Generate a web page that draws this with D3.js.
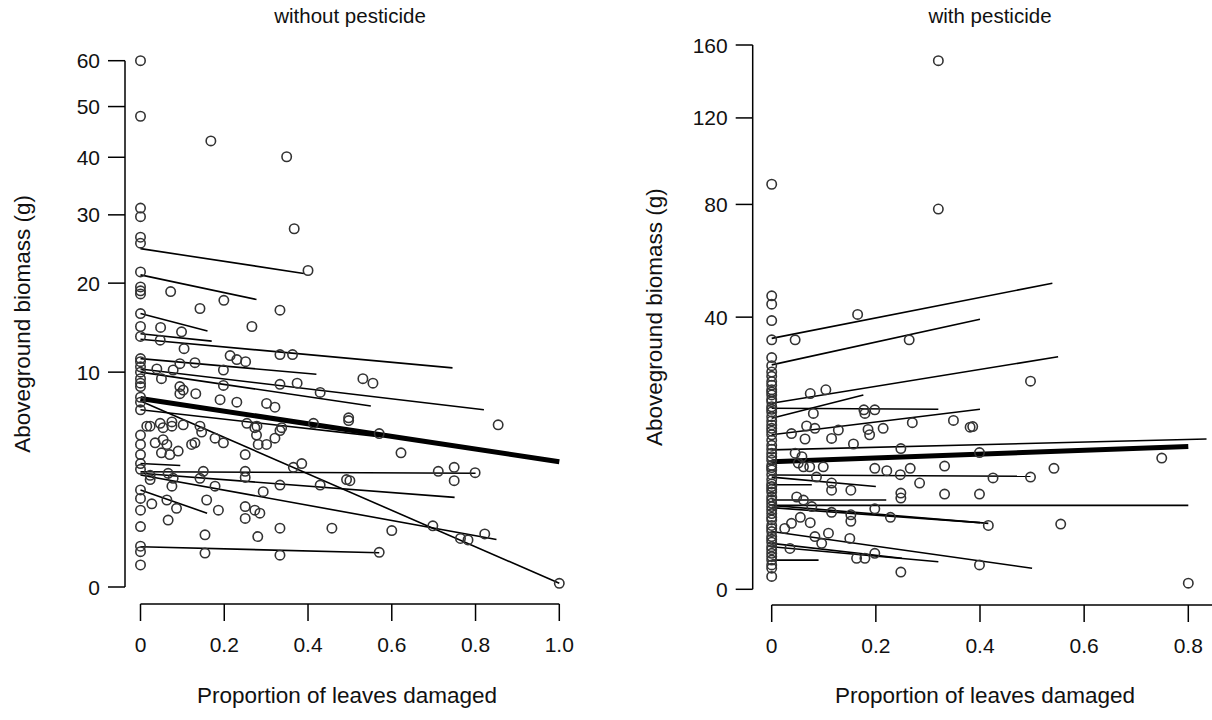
<!DOCTYPE html>
<html><head><meta charset="utf-8">
<script src="https://cdn.jsdelivr.net/npm/d3@7"></script>
<style>
body{margin:0;background:#fff}
text{font-family:"Liberation Sans",Arial,sans-serif;fill:#111}
</style>
</head><body>
<svg id="c" width="1212" height="720"></svg>
<script>
// ---------- DATA ----------
const panelTitles = ["without pesticide", "with pesticide"];
const xTitle = "Proportion of leaves damaged";
const yTitle = "Aboveground biomass (g)";
const xTicksLeft = [0, 0.2, 0.4, 0.6, 0.8, 1.0];
const xTickLabelsLeft = ["0", "0.2", "0.4", "0.6", "0.8", "1.0"];
const yTicksLeft = [0, 10, 20, 30, 40, 50, 60];
const xTicksRight = [0, 0.2, 0.4, 0.6, 0.8];
const xTickLabelsRight = ["0", "0.2", "0.4", "0.6", "0.8"];
const yTicksRight = [0, 40, 80, 120, 160];

// [proportion damaged, biomass]
const leftPoints = [
[0,60],[0,48],[0.168,43.1],[0.349,40.1],[0,31.1],[0,29.7],[0.367,27.8],[0,26.5],[0,25.6],[0.40,21.7],[0,21.5],
[0,19.5],[0,19.0],[0,18.6],[0.072,18.9],[0.199,17.8],[0.142,16.8],[0.333,16.6],[0.266,14.7],[0,16.2],[0,14.7],
[0.048,14.6],[0.098,14.1],[0.047,13.2],[0,13.6],[0.104,12.3],[0.214,11.6],[0.23,11.2],[0.251,11.0],[0.333,11.7],
[0.363,11.7],[0,11.3],[0,11.0],[0,10.5],[0,10.0],[0,9.4],[0,9.0],[0,8.7],[0,7.8],[0,7.4],[0,6.8],[0.039,10.3],
[0.05,9.4],[0.078,10.2],[0.094,10.8],[0.13,10.9],[0.094,8.7],[0.094,8.1],[0.132,8.1],[0.102,8.4],[0.198,10.2],
[0.198,8.8],[0.19,7.6],[0.23,7.4],[0.301,7.3],[0.321,7.0],[0.333,8.9],[0.374,9.0],[0.429,8.2],[0.023,5.6],
[0.047,5.8],[0.075,5.9],[0.102,5.7],[0.254,5.8],[0.278,5.6],[0.337,5.5],[0.413,5.8],[0.497,6.2],[0.531,9.4],
[0.555,9.0],[0.015,5.6],[0,5.0],[0.054,5.5],[0.075,5.6],[0,4.4],[0.035,4.5],[0.054,4.7],[0.063,4.4],[0.09,4.0],
[0.05,3.9],[0.07,3.8],[0,3.8],[0.122,4.4],[0.13,4.5],[0.142,5.6],[0.146,5.2],[0.178,4.8],[0.198,4.5],[0.25,3.8],
[0.273,5.5],[0.277,5.0],[0.281,4.4],[0.301,4.4],[0.321,4.8],[0.333,5.3],[0,3.3],[0,3.0],[0.023,2.7],[0.023,2.5],
[0.066,2.8],[0.078,2.56],[0.075,2.2],[0,2.04],[0,1.7],[0.027,1.5],[0.063,1.64],[0.086,1.34],[0,1.28],[0.066,0.97],
[0,0.79],[0,0.36],[0,0.27],[0,0.105],[0.15,2.9],[0.142,2.56],[0.178,2.2],[0.158,1.64],[0.186,1.28],[0.154,0.59],
[0.154,0.25],[0.25,2.9],[0.25,2.6],[0.293,1.97],[0.333,2.25],[0.25,1.4],[0.273,1.28],[0.285,1.18],[0.25,1.02],
[0.28,0.55],[0.333,0.75],[0.333,0.22],[0.365,3.1],[0.385,3.3],[0.429,2.25],[0.457,0.75],[0.492,2.5],
[0.497,6.0],[0.854,5.7],[0.57,5.1],[0.622,3.9],[0.711,2.9],[0.749,3.1],[0.749,2.45],[0.799,2.83],[0.5,2.45],
[0.6,0.69],[0.698,0.81],[0.764,0.51],[0.782,0.48],[0.822,0.61],[0.57,0.26],[1.0,0.003]
];
// individual fitted lines: [x0, y0, x1, y1]
const leftLines = [
[0,24.8,0.39,21.3],[0,21.1,0.277,17.9],[0,16.2,0.16,14.2],[0,13.9,0.17,13.1],[0,13.3,0.745,10.4],
[0,11.3,0.42,9.8],[0,10.3,0.82,6.8],[0,10.0,0.55,7.1],[0,7.5,1.0,0.003],[0,6.8,0.57,4.9],
[0,2.88,0.8,2.80],[0,3.3,0.095,3.2],[0,2.8,0.75,1.74],[0,2.72,0.85,0.49],[0,2.04,0.159,1.18],[0,0.35,0.57,0.255]
];
const leftFit = [0, 7.7, 1.0, 3.4];

const rightPoints = [
[0,88.6],[0,46.5],[0,43.9],[0,39.0],[0,33.6],[0,29.0],[0,27.0],[0,25.5],[0,24.5],[0,23.3],[0,22.5],[0,21.5],
[0,21.0],[0,20.4],[0,19.5],[0,19.0],[0,18.0],[0,17.5],[0,17.0],[0,16.1],[0,15.3],[0,14.6],[0,14.0],[0,13.5],
[0,12.9],[0,12.0],[0,11.2],[0,10.6],[0,10.0],[0,9.5],[0,9.0],[0,8.3],[0,8.0],[0,7.7],[0,7.1],[0,6.5],[0,6.0],
[0,5.7],[0,5.4],[0,5.1],[0,4.6],[0,4.3],[0,4.0],[0,3.7],[0,3.4],[0,3.1],[0,2.8],[0,2.6],[0,2.2],[0,2.0],
[0,1.8],[0,1.5],[0,1.35],[0,1.2],[0,0.98],[0,0.85],[0,0.70],[0,0.58],[0,0.46],[0,0.32],[0,0.24],[0,0.09],
[0.32,150.9],[0.32,78.1],[0.165,40.8],[0.045,33.6],[0.264,33.6],[0.074,20.7],[0.104,21.5],[0.177,17.4],
[0.198,17.4],[0.179,16.7],[0.08,16.7],[0.038,13.1],[0.067,14.4],[0.083,14.0],[0.064,12.2],[0.115,12.3],
[0.128,13.7],[0.157,11.4],[0.185,13.8],[0.188,12.9],[0.214,14.0],[0.27,15.0],[0.349,15.4],[0.381,14.2],
[0.248,10.7],[0.045,10.0],[0.058,9.5],[0.051,8.6],[0.061,8.1],[0.073,8.1],[0.086,6.8],[0.099,8.1],[0.198,7.9],
[0.221,7.6],[0.247,7.1],[0.266,7.9],[0.284,6.1],[0.332,8.2],[0.115,6.1],[0.115,5.3],[0.152,5.3],[0.248,5.0],
[0.248,4.5],[0.332,4.9],[0.048,4.6],[0.061,4.3],[0.077,3.7],[0.115,3.2],[0.152,3.0],[0.152,2.5],[0.198,3.5],
[0.228,2.8],[0.074,2.4],[0.055,2.8],[0.038,2.35],[0.025,2.0],[0.109,1.7],[0.083,1.5],[0.096,1.14],[0.15,1.4],
[0.035,0.9],[0.163,0.52],[0.179,0.52],[0.198,0.70],[0.248,0.16],[0.497,23.4],[0.386,14.3],[0.399,10.1],
[0.749,9.3],[0.542,7.9],[0.497,6.8],[0.425,6.7],[0.399,4.9],[0.416,2.2],[0.555,2.3],[0.399,0.32],[0.80,0.02]
];
const rightLines = [
[0,34.0,0.539,50.6],[0,27.2,0.4,39.4],[0,18.7,0.55,29.2],[0,15.8,0.176,20.4],[0,17.7,0.32,17.5],
[0,12.9,0.4,17.5],[0,10.5,0.835,12.2],[0,7.05,0.497,6.9],[0,6.8,0.2,5.7],[0,5.9,0.077,5.9],
[0,4.3,0.22,4.3],[0,3.8,0.8,3.8],[0,3.8,0.416,2.35],[0,3.6,0.40,2.4],[0,1.8,0.5,0.24],
[0,1.14,0.25,0.52],[0,0.98,0.32,0.41],[0,0.46,0.09,0.46]
];
const rightFit = [0, 8.8, 0.80, 11.0];

// ---------- DRAW ----------
const svg = d3.select("#c");
const TICK_FS = 21, TITLE_FS = 22.5;

function panel(cfg) {
  const g = svg.append("g");
  const x = d3.scaleLinear().domain(cfg.xDomain).range(cfg.xRange);
  const y = d3.scaleSqrt().domain(cfg.yDomain).range(cfg.yRange);
  const clip = "clip" + cfg.id;
  svg.append("clipPath").attr("id", clip).append("rect")
    .attr("x", cfg.xRange[0] - 20).attr("y", 30).attr("width", cfg.clipW).attr("height", 570);

  const plot = g.append("g").attr("clip-path", `url(#${clip})`);
  plot.selectAll("line.ind").data(cfg.lines).join("line")
    .attr("x1", d => x(d[0])).attr("y1", d => y(d[1]))
    .attr("x2", d => x(d[2])).attr("y2", d => y(d[3]))
    .attr("stroke", "#000").attr("stroke-width", 1.6);
  plot.append("line")
    .attr("x1", x(cfg.fit[0])).attr("y1", y(cfg.fit[1]))
    .attr("x2", x(cfg.fit[2])).attr("y2", y(cfg.fit[3]))
    .attr("stroke", "#000").attr("stroke-width", 5);
  plot.selectAll("circle").data(cfg.points).join("circle")
    .attr("cx", d => x(d[0])).attr("cy", d => y(d[1])).attr("r", 4.7)
    .attr("fill", "none").attr("stroke", "#333").attr("stroke-width", 1.6);

  // x axis (R style)
  const xa = g.append("g").attr("transform", `translate(0,${cfg.xAxisY})`);
  xa.append("line").attr("x1", x(cfg.xTicks[0])).attr("x2", cfg.xAxisEnd)
    .attr("stroke", "#000").attr("stroke-width", 1.5);
  xa.selectAll("line.t").data(cfg.xTicks).join("line").attr("class", "t")
    .attr("x1", d => x(d)).attr("x2", d => x(d)).attr("y1", 0).attr("y2", 17)
    .attr("stroke", "#000").attr("stroke-width", 1.5);
  xa.selectAll("text").data(cfg.xTicks).join("text")
    .attr("x", d => x(d)).attr("y", 48).attr("text-anchor", "middle")
    .attr("font-size", TICK_FS).text((d, i) => cfg.xLabels[i]);

  // y axis
  const ya = g.append("g").attr("transform", `translate(${cfg.yAxisX},0)`);
  ya.append("line").attr("y1", y(cfg.yTicks[0])).attr("y2", y(cfg.yTicks[cfg.yTicks.length - 1]))
    .attr("stroke", "#000").attr("stroke-width", 1.5);
  ya.selectAll("line.t").data(cfg.yTicks).join("line").attr("class", "t")
    .attr("y1", d => y(d)).attr("y2", d => y(d)).attr("x1", 0).attr("x2", -17)
    .attr("stroke", "#000").attr("stroke-width", 1.5);
  ya.selectAll("text").data(cfg.yTicks).join("text")
    .attr("x", -25).attr("y", d => y(d)).attr("dy", "0.36em").attr("text-anchor", "end")
    .attr("font-size", TICK_FS).text(d => d);

  // titles
  g.append("text").attr("x", cfg.titleX).attr("y", 23).attr("text-anchor", "middle")
    .attr("font-size", TITLE_FS - 2).text(cfg.title);
  g.append("text").attr("x", cfg.xTitleX)
    .attr("y", 703).attr("text-anchor", "middle").attr("font-size", TITLE_FS).text(xTitle);
  g.append("text").attr("transform", `translate(${cfg.yTitleX},${(cfg.yRange[0] + cfg.yRange[1]) / 2}) rotate(-90)`)
    .attr("text-anchor", "middle").attr("font-size", TITLE_FS).text(yTitle);
}

panel({
  id: "L", xDomain: [0, 1], xRange: [140.5, 559.3], yDomain: [0, 60], yRange: [587, 60.7],
  points: leftPoints, lines: leftLines, fit: leftFit, xTicks: xTicksLeft, xLabels: xTickLabelsLeft,
  yTicks: yTicksLeft, xAxisY: 604, xAxisEnd: 559.3, yAxisX: 125, title: panelTitles[0], titleX: 350,
  xTitleX: 347, yTitleX: 30, clipW: 460
});
panel({
  id: "R", xDomain: [0, 0.8], xRange: [771.7, 1188.3], yDomain: [0, 160], yRange: [589.3, 45],
  points: rightPoints, lines: rightLines, fit: rightFit, xTicks: xTicksRight, xLabels: xTickLabelsRight,
  yTicks: yTicksRight, xAxisY: 605, xAxisEnd: 1212, yAxisX: 752.7, title: panelTitles[1], titleX: 990,
  xTitleX: 985, yTitleX: 662, clipW: 470
});
</script>
</body></html>
